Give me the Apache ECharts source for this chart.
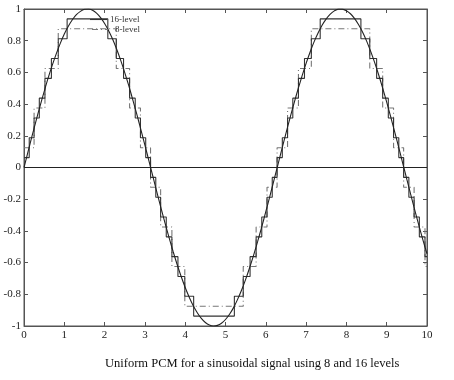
<!DOCTYPE html>
<html>
<head>
<meta charset="utf-8">
<script src="https://cdn.jsdelivr.net/npm/echarts@6/dist/echarts.min.js"></script>
<style>html,body{margin:0;padding:0;background:#fff;}#c{width:454px;height:380px;}</style>
</head>
<body>
<div id="c"></div>
<script>
// Time samples and the analog sinusoid
var tValues = [0,0.1,0.2,0.3,0.4,0.5,0.6,0.7,0.8,0.9,1.0,1.1,1.2,1.3,1.4,1.5,1.6,1.7,1.8,1.9,2.0,2.1,2.2,2.3,2.4,2.5,2.6,2.7,2.8,2.9,3.0,3.1,3.2,3.3,3.4,3.5,3.6,3.7,3.8,3.9,4.0,4.1,4.2,4.3,4.4,4.5,4.6,4.7,4.8,4.9,5.0,5.1,5.2,5.3,5.4,5.5,5.6,5.7,5.8,5.9,6.0,6.1,6.2,6.3,6.4,6.5,6.6,6.7,6.8,6.9,7.0,7.1,7.2,7.3,7.4,7.5,7.6,7.7,7.8,7.9,8.0,8.1,8.2,8.3,8.4,8.5,8.6,8.7,8.8,8.9,9.0,9.1,9.2,9.3,9.4,9.5,9.6,9.7,9.8,9.9,10.0];
var signalValues = [0,0.100,0.199,0.296,0.389,0.479,0.565,0.644,0.717,0.783,0.842,0.891,0.932,0.964,0.985,0.998,1.000,0.992,0.974,0.946,0.909,0.863,0.809,0.746,0.676,0.599,0.516,0.427,0.335,0.239,0.141,0.042,-0.058,-0.158,-0.256,-0.351,-0.443,-0.530,-0.612,-0.688,-0.757,-0.818,-0.872,-0.916,-0.952,-0.978,-0.994,-1.000,-0.996,-0.983,-0.959,-0.926,-0.884,-0.832,-0.773,-0.706,-0.631,-0.551,-0.465,-0.374,-0.279,-0.182,-0.083,0.017,0.117,0.215,0.312,0.405,0.494,0.578,0.657,0.729,0.794,0.850,0.899,0.938,0.968,0.988,0.999,0.999,0.989,0.970,0.941,0.902,0.855,0.799,0.734,0.663,0.585,0.501,0.412,0.319,0.223,0.125,0.025,-0.075,-0.174,-0.272,-0.367,-0.458,-0.544];

// 16-level quantizer: step start times and held levels
var q16Times = [0,0.13,0.25,0.38,0.52,0.68,0.85,1.07,2.08,2.29,2.47,2.62,2.76,2.89,3.02,3.14,3.27,3.39,3.53,3.67,3.82,3.99,4.21,5.22,5.44,5.61,5.76,5.90,6.03,6.16,6.28,6.41,6.54,6.67,6.81,6.96,7.13,7.35,8.36,8.58,8.75,8.90,9.04,9.17,9.30,9.42,9.55,9.68,9.81,9.95,10.0];
var q16Levels = [0.0625,0.1875,0.3125,0.4375,0.5625,0.6875,0.8125,0.9375,0.8125,0.6875,0.5625,0.4375,0.3125,0.1875,0.0625,-0.0625,-0.1875,-0.3125,-0.4375,-0.5625,-0.6875,-0.8125,-0.9375,-0.8125,-0.6875,-0.5625,-0.4375,-0.3125,-0.1875,-0.0625,0.0625,0.1875,0.3125,0.4375,0.5625,0.6875,0.8125,0.9375,0.8125,0.6875,0.5625,0.4375,0.3125,0.1875,0.0625,-0.0625,-0.1875,-0.3125,-0.4375,-0.5625,-0.5625];

// 8-level quantizer: step start times and held levels
var q8Times = [0,0.25,0.52,0.85,2.29,2.62,2.89,3.14,3.39,3.67,3.99,5.44,5.76,6.03,6.28,6.54,6.81,7.13,8.58,8.90,9.17,9.42,9.68,9.95,10.0];
var q8Levels = [0.125,0.375,0.625,0.875,0.625,0.375,0.125,-0.125,-0.375,-0.625,-0.875,-0.625,-0.375,-0.125,0.125,0.375,0.625,0.875,0.625,0.375,0.125,-0.125,-0.375,-0.625,-0.625];

var xTicks = [0,1,2,3,4,5,6,7,8,9,10];
var yTicks = [-1,-0.8,-0.6,-0.4,-0.2,0,0.2,0.4,0.6,0.8,1];
var seriesNames = ['16-level','8-level'];
var captionText = 'Uniform PCM for a sinusoidal signal using 8 and 16 levels';

function zip(a,b){var r=[];for(var i=0;i<a.length;i++){r.push([a[i],b[i]]);}return r;}

var serif = '"Liberation Serif","DejaVu Serif",serif';
var axisCol = '#555';
var col16 = '#333', col8 = '#777';
var dash8 = [6,3,1,3];
var tickCommon = {show:true, inside:true, length:4, lineStyle:{color:axisCol}};

var chart = echarts.init(document.getElementById('c'), null, {renderer:'canvas'});
chart.setOption({
  animation:false,
  backgroundColor:'#fff',
  grid:{left:24, right:27, top:9, bottom:54, show:true, borderColor:axisCol, borderWidth:1},
  xAxis:[
    {type:'value', min:0, max:10, interval:1, position:'bottom',
     axisLine:{show:true, onZero:false, lineStyle:{color:axisCol}},
     axisTick:tickCommon, splitLine:{show:false},
     axisLabel:{fontFamily:serif, fontSize:11, color:'#222', margin:4,
       formatter:function(v){return xTicks.indexOf(v)>=0?String(v):'';}}},
    {type:'value', min:0, max:10, interval:1, position:'top',
     axisLine:{show:true, onZero:false, lineStyle:{color:axisCol}},
     axisTick:tickCommon, splitLine:{show:false}, axisLabel:{show:false}}
  ],
  yAxis:[
    {type:'value', min:-1, max:1, interval:0.2, position:'left',
     axisLine:{show:true, onZero:false, lineStyle:{color:axisCol}},
     axisTick:tickCommon, splitLine:{show:false},
     axisLabel:{fontFamily:serif, fontSize:11, color:'#222', margin:3,
       formatter:function(v){var r=Math.round(v*10)/10; return String(r);}}},
    {type:'value', min:-1, max:1, interval:0.2, position:'right',
     axisLine:{show:true, onZero:false, lineStyle:{color:axisCol}},
     axisTick:tickCommon, splitLine:{show:false}, axisLabel:{show:false}}
  ],
  series:[
    {name:'signal', type:'line', data:zip(tValues,signalValues), symbol:'none', smooth:0.3,
     lineStyle:{color:'#222', width:1.1}, z:3,
     markLine:{silent:true, symbol:'none', label:{show:false},
       lineStyle:{color:'#222', width:1, type:'solid'}, data:[{yAxis:0}]}},
    {name:seriesNames[0], type:'line', step:'end', data:zip(q16Times,q16Levels), symbol:'none',
     lineStyle:{color:col16, width:1.1}, z:2},
    {name:seriesNames[1], type:'line', step:'end', data:zip(q8Times,q8Levels), symbol:'none',
     lineStyle:{color:col8, width:1.1, type:dash8}, z:1}
  ],
  graphic:[
    {type:'line', shape:{x1:90, y1:19.5, x2:107, y2:19.5}, style:{stroke:col16, lineWidth:1.1}, z:10},
    {type:'text', x:110, y:19.5, style:{text:seriesNames[0], font:'9px "Liberation Serif","DejaVu Serif",serif', fill:'#333', textVerticalAlign:'middle'}, z:10},
    {type:'line', shape:{x1:92, y1:29.5, x2:108, y2:29.5}, style:{stroke:col8, lineWidth:1.1, lineDash:dash8}, z:10},
    {type:'text', x:115, y:29.5, style:{text:seriesNames[1], font:'9px "Liberation Serif","DejaVu Serif",serif', fill:'#333', textVerticalAlign:'middle'}, z:10},
    {type:'text', left:105, top:357,
     style:{text:captionText, font:'12.5px "Liberation Serif","DejaVu Serif",serif', fill:'#111'}}
  ]
});
</script>
</body>
</html>
